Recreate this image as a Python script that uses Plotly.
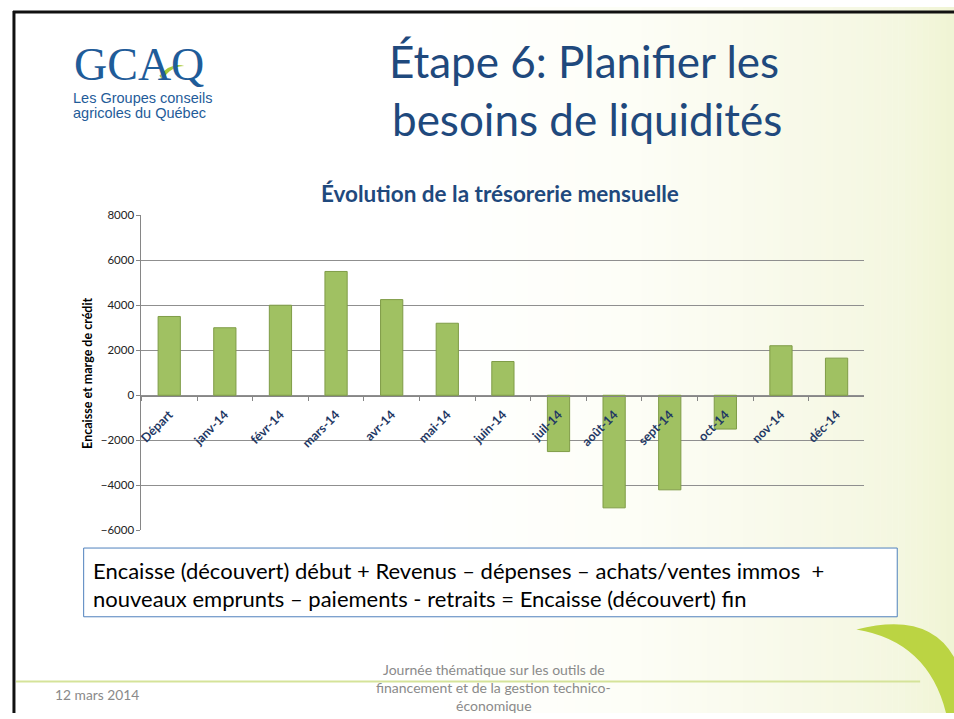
import plotly.graph_objects as go

# ---------------- data ----------------
categories = ["Départ", "janv-14", "févr-14", "mars-14", "avr-14", "mai-14", "juin-14",
              "juil-14", "août-14", "sept-14", "oct-14", "nov-14", "déc-14"]
tresorerie = [3500, 3000, 4000, 5500, 4250, 3200, 1500,
              -2500, -5000, -4200, -1500, 2200, 1650]
y_ticks = [-6000, -4000, -2000, 0, 2000, 4000, 6000, 8000]

W, H = 954, 719


def px(x):
    return x / W


def py(y):
    return 1 - y / H


NAVY = "#1F497D"

fig = go.Figure()
fig.add_trace(go.Bar(
    x=categories, y=tresorerie,
    marker=dict(color="#A0C162", line=dict(color="#7F9C47", width=1)),
    hoverinfo="x+y", showlegend=False,
))

shapes = []
# background gradient (white -> pale yellow-green on the right)
def lerp(a, b, t):
    return tuple(int(round(a[i] + (b[i] - a[i]) * t)) for i in range(3))

stops = [(0, (255, 255, 255)), (430, (255, 255, 255)), (620, (253, 254, 247)),
         (760, (249, 250, 236)), (900, (244, 247, 224)), (954, (240, 244, 212))]
step = 6
xs = 430
while xs < W:
    xm = xs + step / 2
    for i in range(len(stops) - 1):
        if stops[i][0] <= xm <= stops[i + 1][0]:
            t = (xm - stops[i][0]) / (stops[i + 1][0] - stops[i][0])
            c = lerp(stops[i][1], stops[i + 1][1], t)
            break
    shapes.append(dict(type="rect", xref="paper", yref="paper", x0=px(xs), x1=px(xs + step + 0.5),
                       y0=0, y1=1, fillcolor="rgb(%d,%d,%d)" % c, line=dict(width=0), layer="below"))
    xs += step

# slide border (top and left)
shapes.append(dict(type="line", xref="paper", yref="paper", x0=px(9), x1=1, y0=py(5), y1=py(5),
                   line=dict(color="#111111", width=3), layer="above"))
shapes.append(dict(type="line", xref="paper", yref="paper", x0=px(10), x1=px(10), y0=py(4), y1=0,
                   line=dict(color="#111111", width=3), layer="above"))

# footer line
shapes.append(dict(type="line", xref="paper", yref="paper", x0=px(12), x1=px(920), y0=py(687), y1=py(687),
                   line=dict(color="#D5E39A", width=2), layer="below"))

# swoosh lower right
def P(x, y):
    return "%.5f %.5f" % (px(x), py(y))

swoosh = ("M " + P(856, 634) + " Q " + P(928, 615) + " " + P(954, 662) +
          " L " + P(954, 719) + " L " + P(946, 719) + " Q " + P(928, 646) + " " + P(856, 634) + " Z")
shapes.append(dict(type="path", xref="paper", yref="paper", path=swoosh,
                   fillcolor="#BBD443", line=dict(width=0), layer="below"))

# formula box
shapes.append(dict(type="rect", xref="paper", yref="paper", x0=px(80), x1=px(897), y0=py(621), y1=py(551),
                   fillcolor="white", line=dict(color="#4F81BD", width=1), layer="below"))

# logo swoosh through the A
logo = ("M " + P(156, 70) + " Q " + P(168, 56) + " " + P(181, 60) +
        " Q " + P(168, 60) + " " + P(159, 74) + " Z")
shapes.append(dict(type="path", xref="paper", yref="paper", path=logo,
                   fillcolor="#A8C83A", line=dict(width=0), layer="above"))

annotations = []

def txt(x, y, s, size, color, family="Lato", xanchor="center", bold=False, angle=0):
    if bold:
        s = "<b>" + s + "</b>"
    annotations.append(dict(x=px(x), y=py(y), xref="paper", yref="paper", text=s, showarrow=False,
                            xanchor=xanchor, yanchor="middle", textangle=angle, borderpad=0,
                            font=dict(size=size, color=color, family=family)))

# logo
txt(136, 59, "GCAQ", 46, "#1F5C99", family="Liberation Serif")
txt(68, 93, "Les Groupes conseils", 14.5, "#1F5C99", family="Liberation Sans", xanchor="left")
txt(68, 108, "agricoles du Québec", 14.5, "#1F5C99", family="Liberation Sans", xanchor="left")

# slide title
txt(582, 55, "Étape 6: Planifier les", 44, NAVY)
txt(585, 114, "besoins de liquidités", 44, NAVY)

# chart title
txt(498, 190, "Évolution de la trésorerie mensuelle", 22.5, NAVY, bold=True)

# y axis title
txt(84, 373, "Encaisse et marge de crédit", 12.5, "#000000", bold=True, angle=-90)

# formula
txt(88, 574, "Encaisse (découvert) début + Revenus – dépenses – achats/ventes immos  +", 22, "#000000",
    xanchor="left")
txt(88, 602, "nouveaux emprunts – paiements - retraits = Encaisse (découvert) fin", 22, "#000000",
    xanchor="left")

# footer
txt(50, 700, "12 mars 2014", 13.8, "#8A8A8A", xanchor="left")
txt(492, 675, "Journée thématique sur les outils de", 14, "#8A8A8A")
txt(492, 693, "financement et de la gestion technico-", 14, "#8A8A8A")
txt(492, 711, "économique", 14, "#8A8A8A")

zero_pos = py(395.7)

fig.update_layout(
    width=W, height=H, autosize=False,
    margin=dict(l=0, r=0, t=0, b=0),
    paper_bgcolor="white", plot_bgcolor="rgba(0,0,0,0)",
    bargap=0.6,
    shapes=shapes, annotations=annotations,
    xaxis=dict(domain=[px(138), px(864)], anchor="free", position=zero_pos,
               type="category", categoryorder="array", categoryarray=categories,
               showgrid=False, showline=True, linecolor="#868686", linewidth=1,
               ticks="outside", tickson="boundaries", ticklen=4, tickcolor="#868686",
               tickangle=-45, ticklabelstandoff=6,
               tickfont=dict(size=12.5, color="#1F3864", family="Lato", weight="bold")),
    yaxis=dict(domain=[py(533), py(212)], range=[-6000, 8000], tickvals=y_ticks,
               showgrid=True, gridcolor="#8F8F8F", gridwidth=1, zeroline=False,
               showline=True, linecolor="#868686", ticks="outside", ticklen=4, tickcolor="#868686",
               tickfont=dict(size=11.5, color="#222222", family="Lato")),
    font=dict(family="Lato"),
)

fig.write_html("out.html", config={"displayModeBar": False},
               post_script="document.documentElement.style.overflow='hidden';"
                           "document.body.style.margin='0';document.body.style.padding='0';")
